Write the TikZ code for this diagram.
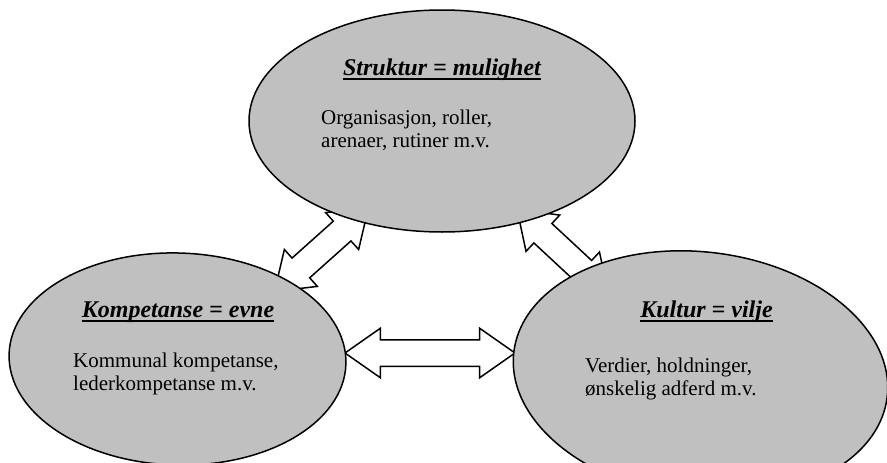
\documentclass[tikz,border=0pt]{standalone}
\usepackage{fontspec}
\setmainfont{Liberation Serif}
\usetikzlibrary{shapes.geometric,shapes.arrows,calc}
\definecolor{ovalgray}{RGB}{192,192,192}
\newcommand{\ulhead}[1]{\setbox0=\hbox{#1}\rlap{\rule[-5pt]{\wd0}{2.2pt}}\box0}

\begin{document}
\begin{tikzpicture}[x=1pt, y=-1pt,
    oval/.style={ellipse, draw, fill=ovalgray, line width=1.5pt, inner sep=0pt},
    bigarrow/.style={double arrow, draw, fill=white, line width=1.5pt, sloped, inner xsep=0pt, inner ysep=12.5pt,
        double arrow head extend=11.5pt, double arrow tip angle=70},
    title/.style={font=\fontsize{24}{28}\selectfont\bfseries\itshape, inner sep=0pt, anchor=base},
    body/.style={font=\fontsize{21}{23.5}\selectfont, align=left, inner sep=0pt, anchor=north west}]
    \useasboundingbox (0,0) rectangle (887,463);
    \coordinate (s1) at (368.5,207.5);
    \coordinate (k1) at (274.5,291.5);
    \coordinate (s2) at (516.8,209);
    \coordinate (c1) at (608.7,294.4);
    \coordinate (k2) at (345,353);
    \coordinate (c2) at (515,353);
    \path let \p1=($(s1)-(k1)$), \n1={veclen(\x1,\y1)} in (k1) -- node[bigarrow, minimum height=\n1](sk){} (s1);
    \path let \p1=($(c1)-(s2)$), \n1={veclen(\x1,\y1)} in (s2) -- node[bigarrow, minimum height=\n1](sc){} (c1);
    \path let \p1=($(c2)-(k2)$), \n1={veclen(\x1,\y1)} in (k2) -- node[bigarrow, minimum height=\n1](kc){} (c2);
    \node[oval, minimum width=386pt, minimum height=222pt](struktur) at (442,121){};
    \node[oval, minimum width=337pt, minimum height=212pt, rotate=-1.7](kompetanse) at (177.5,359){};
    \node[oval, minimum width=376pt, minimum height=245pt, rotate=-6.9](kultur) at (700.5,374.5){};
    \node[title](strukturtitle) at (442,75){\ulhead{Struktur = mulighet}};
    \node[body](strukturtext) at (321,109.5){Organisasjon, roller,\\arenaer, rutiner m.v.};
    \node[title](kompetansetitle) at (178,317){\ulhead{Kompetanse = evne}};
    \node[body](kompetansetext) at (73,352.5){Kommunal kompetanse,\\lederkompetanse m.v.};
    \node[title](kulturtitle) at (706.5,317){\ulhead{Kultur = vilje}};
    \node[body](kulturtext) at (585,357.5){Verdier, holdninger,\\ønskelig adferd m.v.};
\end{tikzpicture}
\end{document}
